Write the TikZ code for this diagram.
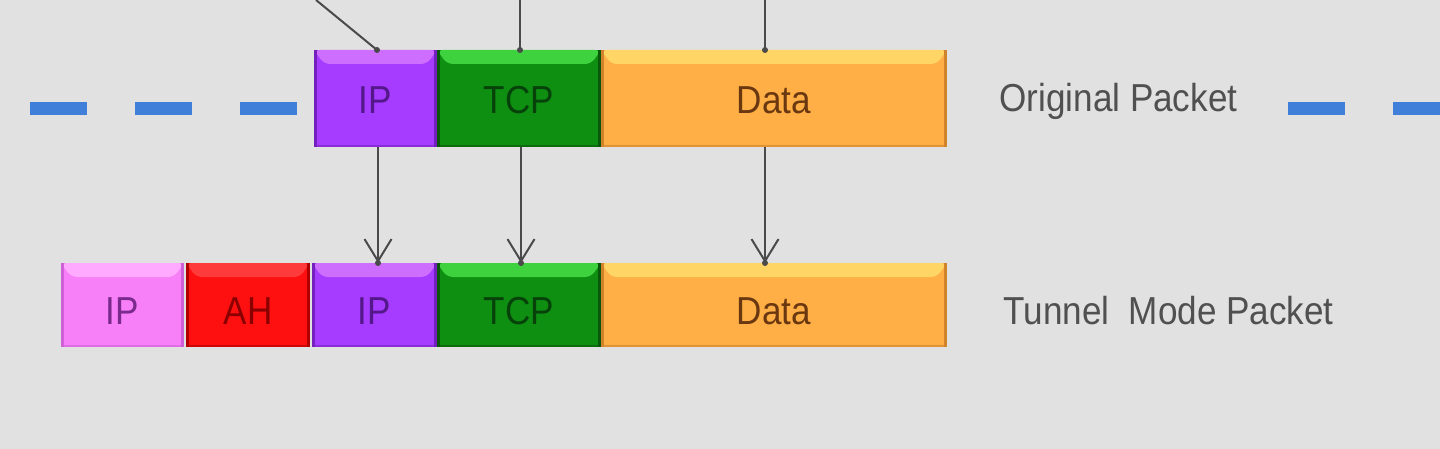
\documentclass[tikz,border=0pt]{standalone}
\usepackage{fontspec}
\usepackage{graphicx}
\setmainfont{Liberation Sans}
\usetikzlibrary{arrows.meta,calc}
\definecolor{bg}{HTML}{E1E1E1}
\definecolor{lc}{HTML}{4A4A4A}
\definecolor{lblc}{HTML}{505050}
\definecolor{dblue}{HTML}{3F7FD9}
\definecolor{purM}{HTML}{A63CFF}\definecolor{purL}{HTML}{CE6EFF}\definecolor{purD}{HTML}{7420BE}\definecolor{purT}{HTML}{54188A}
\definecolor{grnM}{HTML}{0F8F12}\definecolor{grnL}{HTML}{3ED23E}\definecolor{grnD}{HTML}{0A560A}\definecolor{grnT}{HTML}{07420A}
\definecolor{orgM}{HTML}{FFAF45}\definecolor{orgL}{HTML}{FFD565}\definecolor{orgD}{HTML}{D0832A}\definecolor{orgT}{HTML}{6A3810}
\definecolor{pnkM}{HTML}{F77FF7}\definecolor{pnkL}{HTML}{FFAAFF}\definecolor{pnkD}{HTML}{D060D8}\definecolor{pnkT}{HTML}{7A2A8C}
\definecolor{redM}{HTML}{FF1010}\definecolor{redL}{HTML}{FF3A3A}\definecolor{redD}{HTML}{B00000}\definecolor{redT}{HTML}{8A0000}
\tikzset{
  pkt/.style n args={4}{fill=#1, text=#4, inner sep=0pt, outer sep=0pt,
    font=\fontsize{19.5pt}{22pt}\selectfont, text depth=0pt,
    path picture={
      \coordinate (nw) at (path picture bounding box.north west);
      \coordinate (se) at (path picture bounding box.south east);
      \fill[#2, rounded corners=3pt] (nw) -- (nw -| se) -- ($(nw -| se)+(-5pt,-7pt)$) -- ($(nw)+(5pt,-7pt)$) -- cycle;
      \fill[#3] (nw) rectangle ($(nw |- se)+(1.3pt,0)$);
      \fill[#3] ($(nw -| se)+(-1.3pt,0)$) rectangle (se);
      \fill[#3, opacity=0.6] ($(nw |- se)+(0,1.2pt)$) rectangle (se);
    }},
  toprow/.style={minimum height=48.5pt, text height=15.5pt},
  botrow/.style={minimum height=42pt, text height=19pt},
  conn/.style={draw=lc, line width=1pt},
  arr/.style={conn, -{Straight Barb[length=11pt,width=13.5pt,line width=1pt]}},
  bluedash/.style={draw=dblue, line width=6.5pt, dash pattern=on 28.5pt off 24pt},
  lbl/.style={text=lblc, inner sep=0pt, font=\fontsize{19.5pt}{22pt}\selectfont},
  tipdot/.style={fill=lc, circle, inner sep=0pt, minimum size=3pt}
}
\newcommand{\bl}[1]{\scalebox{0.9}[1]{#1}}
\begin{document}
\begin{tikzpicture}[x=0.5pt,y=-0.5pt]
\fill[bg] (0,0) rectangle (1440,449);
\useasboundingbox (0,0) rectangle (1440,449);

% dashed line
\coordinate (dl1) at (30,109);
\coordinate (dl2) at (297,109);
\coordinate (dr1) at (1288,109);
\coordinate (dr2) at (1450,109);
\draw[bluedash] (dl1) -- (dl2);
\draw[bluedash] (dr1) -- (dr2);

% original packet
\node[pkt={purM}{purL}{purD}{purT}, toprow, minimum width=61.5pt] (ipA) at (375.5,98.5) {\bl{IP}};
\node[pkt={grnM}{grnL}{grnD}{grnT}, toprow, minimum width=82pt] (tcpA) at (519,98.5) {\bl{TCP}};
\node[pkt={orgM}{orgL}{orgD}{orgT}, toprow, minimum width=173pt] (dataA) at (774,98.5) {\bl{Data}};

% tunnel mode packet
\node[pkt={pnkM}{pnkL}{pnkD}{pnkT}, botrow, minimum width=61.5pt] (ipO) at (122.5,305) {\bl{IP}};
\node[pkt={redM}{redL}{redD}{redT}, botrow, minimum width=62pt] (ah) at (248,305) {\bl{AH}};
\node[pkt={purM}{purL}{purD}{purT}, botrow, minimum width=62.5pt] (ipB) at (374.5,305) {\bl{IP}};
\node[pkt={grnM}{grnL}{grnD}{grnT}, botrow, minimum width=82pt] (tcpB) at (519,305) {\bl{TCP}};
\node[pkt={orgM}{orgL}{orgD}{orgT}, botrow, minimum width=173pt] (dataB) at (774,305) {\bl{Data}};

% labels
\node[lbl, anchor=west] (origlbl) at (999,101) {\bl{Original Packet}};
\node[lbl, anchor=west] (tunlbl) at (1003,311) {\bl{Tunnel\ \ Mode Packet}};

% incoming lines from above
\coordinate (t1) at (316,0);
\coordinate (t2) at (520,0);
\coordinate (t3) at (765,0);
\draw[conn] (t1) -- ([xshift=0.75pt]ipA.north) node[tipdot]{};
\draw[conn] (t2) -- ([xshift=0.5pt]tcpA.north) node[tipdot]{};
\draw[conn] (t3) -- ([xshift=-4.5pt]dataA.north) node[tipdot]{};

% arrows between rows
\draw[arr] ([xshift=1.25pt]ipA.south) -- ([xshift=1.75pt]ipB.north);
\draw[arr] ([xshift=1pt]tcpA.south) -- ([xshift=1pt]tcpB.north);
\draw[arr] ([xshift=-4.5pt]dataA.south) -- ([xshift=-4.5pt]dataB.north);
\node[tipdot] (d1) at ([xshift=1.75pt]ipB.north) {};
\node[tipdot] (d2) at ([xshift=1pt]tcpB.north) {};
\node[tipdot] (d3) at ([xshift=-4.5pt]dataB.north) {};
\end{tikzpicture}
\end{document}
